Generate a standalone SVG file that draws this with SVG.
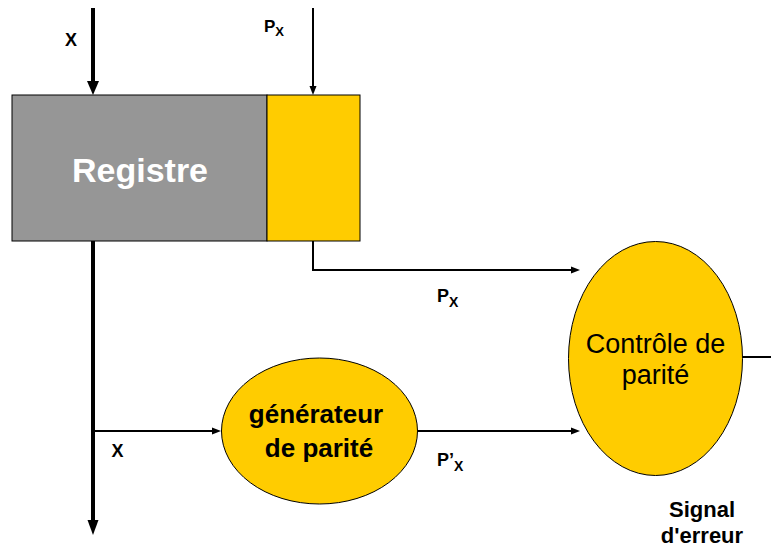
<svg xmlns="http://www.w3.org/2000/svg" width="771" height="549" viewBox="0 0 771 549">
<style>
text{font-family:"Liberation Sans",Arial,sans-serif;fill:#000}
.b{font-weight:bold}
.thick{stroke:#000;stroke-width:4;fill:none}
.thin{stroke:#000;stroke-width:2;fill:none}
.shape{stroke:#000;stroke-width:1}
</style>
<rect width="771" height="549" fill="#fff"/>
<g id="connectors">
  <line class="thick" x1="93" y1="8" x2="93" y2="83"/>
  <polygon points="87,81 99,81 93,95"/>
  <line class="thin" x1="313" y1="8" x2="313" y2="87"/>
  <polygon points="309.5,86 316.5,86 313,95"/>
  <line class="thick" x1="93" y1="241" x2="93" y2="522"/>
  <polygon points="87.5,520 98.5,520 93,535"/>
  <polyline class="thin" points="313,241 313,270 572,270"/>
  <polygon points="571,266.5 571,273.5 580,270"/>
  <line class="thin" x1="93" y1="431" x2="213" y2="431"/>
  <polygon points="212,427.5 212,434.5 221,431"/>
  <line class="thin" x1="418" y1="431" x2="572" y2="431"/>
  <polygon points="571,427.5 571,434.5 580,431"/>
  <line class="thin" x1="742" y1="357" x2="771" y2="357"/>
</g>
<g id="label-x-top"><text class="b" x="71" y="46" font-size="18" text-anchor="middle">X</text></g>
<g id="label-px-top"><text class="b" x="264" y="32" font-size="17">P<tspan font-size="13" dy="4">X</tspan></text></g>
<g id="registre">
  <rect class="shape" x="12" y="95" width="255" height="146" fill="#969696"/>
  <text class="b" x="140" y="182" font-size="34" text-anchor="middle" style="fill:#fff">Registre</text>
</g>
<g id="parity-bit">
  <rect class="shape" x="267" y="95" width="93" height="146" fill="#FFCC00"/>
</g>
<g id="label-px-mid"><text class="b" x="437" y="302" font-size="18">P<tspan font-size="14" dy="5">X</tspan></text></g>
<g id="generateur">
  <ellipse class="shape" cx="319.5" cy="431" rx="98" ry="73" fill="#FFCC00"/>
  <text class="b" x="316" y="423" font-size="26" text-anchor="middle">générateur</text>
  <text class="b" x="319" y="457" font-size="26" text-anchor="middle">de parité</text>
</g>
<g id="label-x-mid"><text class="b" x="117.5" y="457" font-size="18" text-anchor="middle">X</text></g>
<g id="label-ppx"><text class="b" x="437" y="466" font-size="18">P’<tspan font-size="14" dy="5">X</tspan></text></g>
<g id="controle">
  <ellipse class="shape" cx="655.5" cy="358.5" rx="87" ry="117" fill="#FFCC00"/>
  <text x="655.5" y="353" font-size="27" text-anchor="middle">Contrôle de</text>
  <text x="655.5" y="384" font-size="27" text-anchor="middle">parité</text>
</g>
<g id="signal">
  <text class="b" x="702" y="517" font-size="22" text-anchor="middle">Signal</text>
  <text class="b" x="702" y="543" font-size="22" text-anchor="middle">d'erreur</text>
</g>
</svg>
